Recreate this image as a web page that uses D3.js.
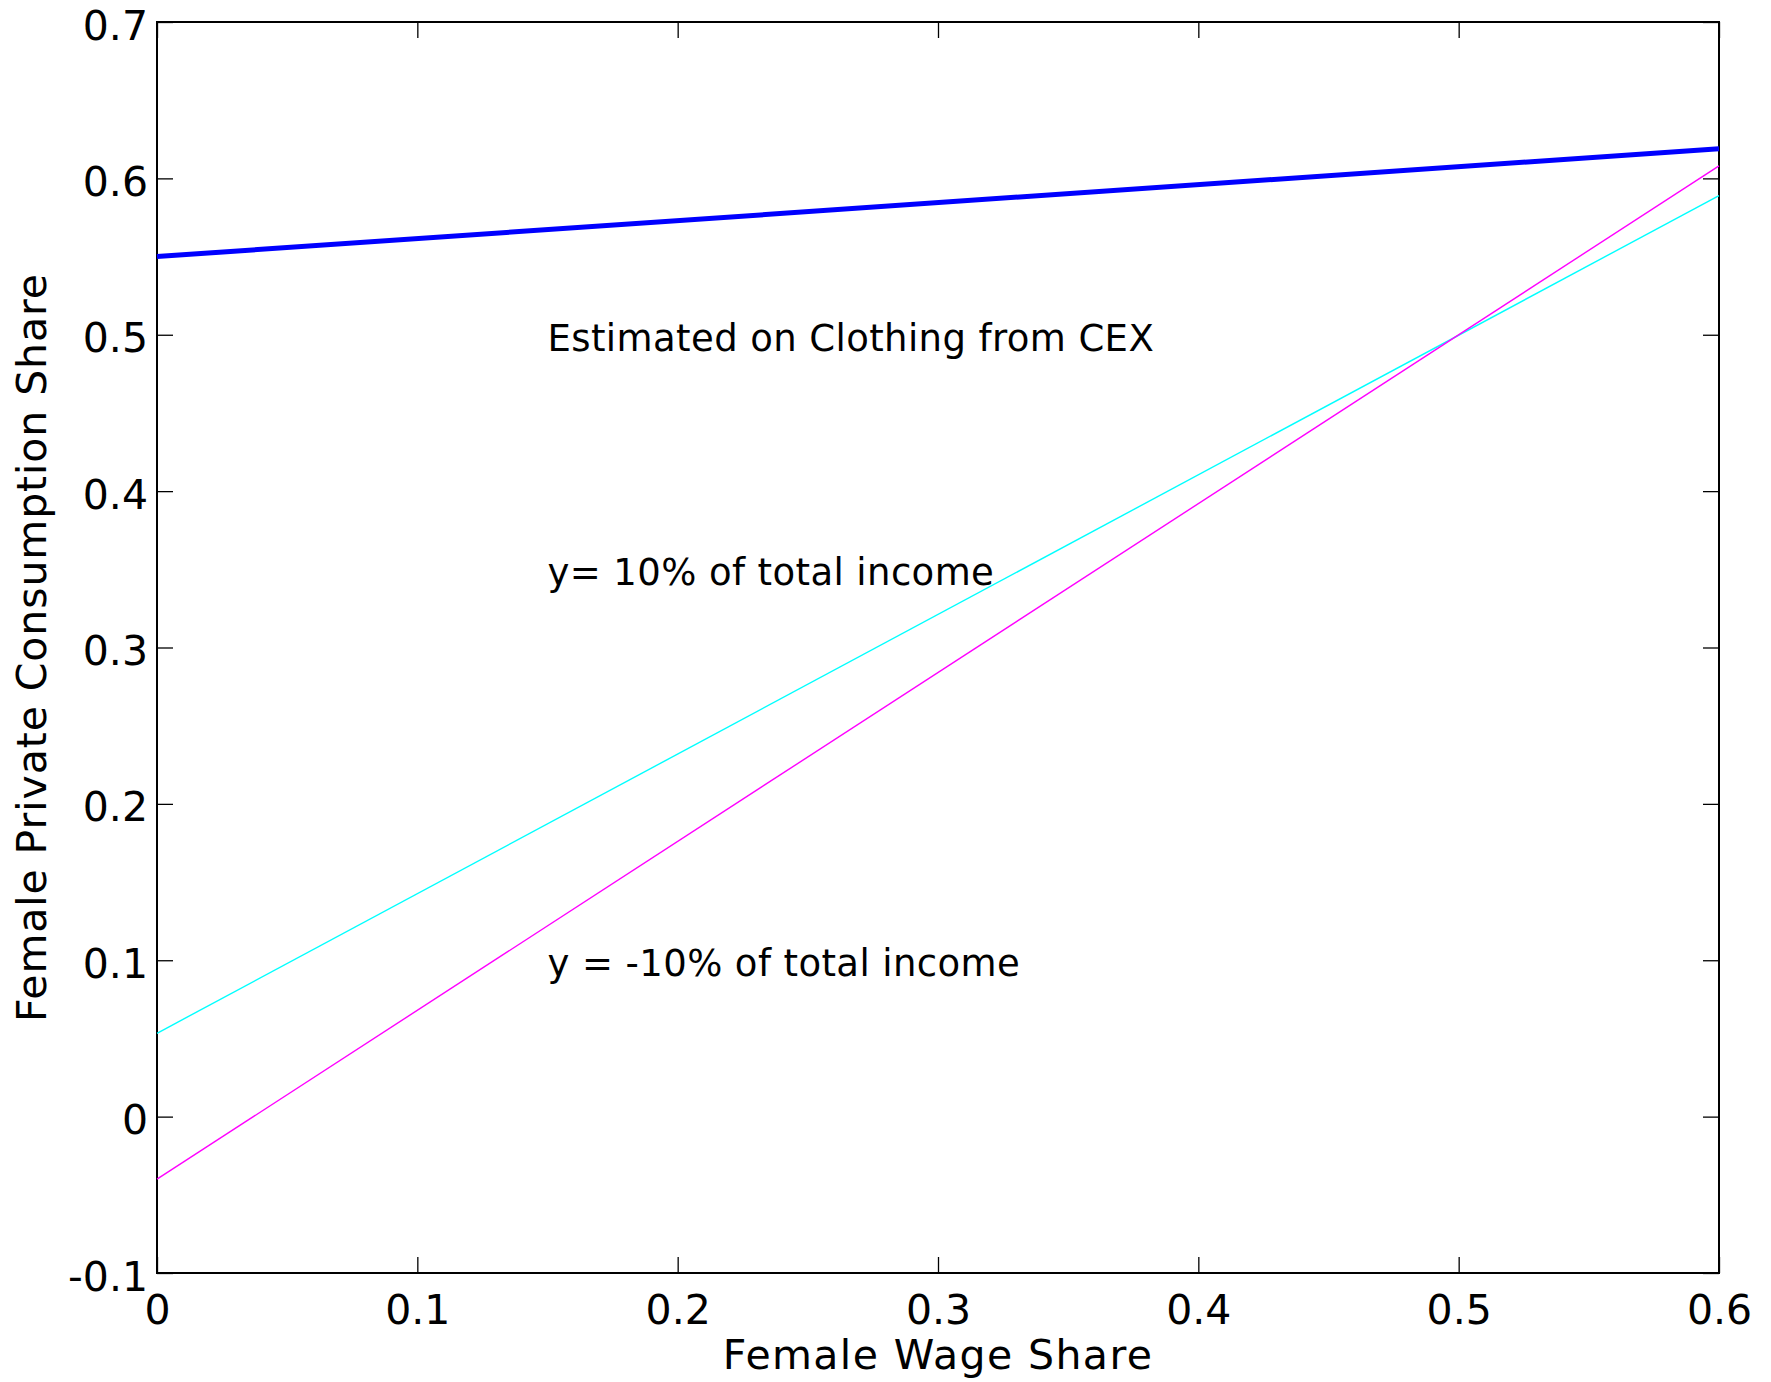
<!DOCTYPE html>
<html>
<head>
<meta charset="utf-8">
<script src="https://cdn.jsdelivr.net/npm/d3@7"></script>
<style>
  body { margin: 0; background: #fff; }
  text { font-family: "DejaVu Sans", sans-serif; fill: #000; }
</style>
</head>
<body>
<div id="chart"></div>
<script>
const width = 1771;
const height = 1382;
const margin = { top: 22, right: 52, bottom: 109, left: 157 };

// data (lines are straight, so two ends each)
const wageShare = [0, 0.6];
const clothing = [0.55, 0.619];
const plus10 = [0.0533, 0.589];
const minus10 = [-0.040, 0.608];

const xTicks = [0, 0.1, 0.2, 0.3, 0.4, 0.5, 0.6];
const xTickLabels = ["0", "0.1", "0.2", "0.3", "0.4", "0.5", "0.6"];
const yTicks = [-0.1, 0, 0.1, 0.2, 0.3, 0.4, 0.5, 0.6, 0.7];
const yTickLabels = ["-0.1", "0", "0.1", "0.2", "0.3", "0.4", "0.5", "0.6", "0.7"];

const notes = [
    { x: 0.15, y: 0.5, text: "Estimated on Clothing from CEX" },
    { x: 0.15, y: 0.35, text: "y= 10% of total income" },
    { x: 0.15, y: 0.1, text: "y = -10% of total income" }
];

const svg = d3.select("#chart").append("svg")
    .attr("width", width)
    .attr("height", height);

const x = d3.scaleLinear().domain([0, 0.6]).range([margin.left, width - margin.right]);
const y = d3.scaleLinear().domain([-0.1, 0.7]).range([height - margin.bottom, margin.top]);

const tickLen = 16;

// axes, MATLAB style: ticks inside on all four sides
const fmtX = d => xTickLabels[xTicks.indexOf(d)];
const fmtY = d => yTickLabels[yTicks.indexOf(d)];

const gx = svg.append("g")
    .attr("transform", `translate(0,${y(-0.1)})`)
    .call(d3.axisBottom(x).tickValues(xTicks).tickFormat(fmtX).tickSize(-tickLen).tickPadding(0));
const gxTop = svg.append("g")
    .attr("transform", `translate(0,${y(0.7)})`)
    .call(d3.axisTop(x).tickValues(xTicks).tickFormat("").tickSize(-tickLen));
const gy = svg.append("g")
    .attr("transform", `translate(${x(0)},0)`)
    .call(d3.axisLeft(y).tickValues(yTicks).tickFormat(fmtY).tickSize(-tickLen).tickPadding(0));
const gyRight = svg.append("g")
    .attr("transform", `translate(${x(0.6)},0)`)
    .call(d3.axisRight(y).tickValues(yTicks).tickFormat("").tickSize(-tickLen));

[gx, gxTop, gy, gyRight].forEach(g => {
    g.select(".domain").remove();
    g.selectAll(".tick line").attr("stroke", "#000").attr("stroke-width", 1.3);
});

gx.selectAll(".tick text")
    .attr("font-size", 41)
    .attr("y", 0)
    .attr("dy", 51)
    .attr("font-family", "DejaVu Sans");
gy.selectAll(".tick text")
    .attr("font-size", 41)
    .attr("x", -9)
    .attr("dy", 17)
    .attr("font-family", "DejaVu Sans");

// box
svg.append("rect")
    .attr("x", x(0))
    .attr("y", y(0.7))
    .attr("width", x(0.6) - x(0))
    .attr("height", y(-0.1) - y(0.7))
    .attr("fill", "none")
    .attr("stroke", "#000")
    .attr("stroke-width", 2);

// lines
const line = d3.line().x(d => x(d[0])).y(d => y(d[1]));
const series = [
    { values: plus10, color: "#00ffff", w: 1.4 },
    { values: minus10, color: "#ff00ff", w: 1.4 },
    { values: clothing, color: "#0000ff", w: 5 }
];
series.forEach(s => {
    svg.append("path")
        .datum(wageShare.map((w, i) => [w, s.values[i]]))
        .attr("d", line)
        .attr("fill", "none")
        .attr("stroke", s.color)
        .attr("stroke-width", s.w);
});

// annotations
notes.forEach(n => {
    svg.append("text")
        .attr("x", x(n.x))
        .attr("y", y(n.y))
        .attr("dy", 16)
        .attr("font-size", 37)
        .attr("letter-spacing", 0.4)
        .text(n.text);
});

// axis titles
svg.append("text")
    .attr("x", (x(0) + x(0.6)) / 2)
    .attr("y", 1369)
    .attr("text-anchor", "middle")
    .attr("font-size", 41)
    .attr("letter-spacing", 1.4)
    .text("Female Wage Share");

svg.append("text")
    .attr("transform", `translate(46,${(y(0.7) + y(-0.1)) / 2}) rotate(-90)`)
    .attr("text-anchor", "middle")
    .attr("font-size", 41)
    .attr("letter-spacing", 0.9)
    .text("Female Private Consumption Share");
</script>
</body>
</html>
